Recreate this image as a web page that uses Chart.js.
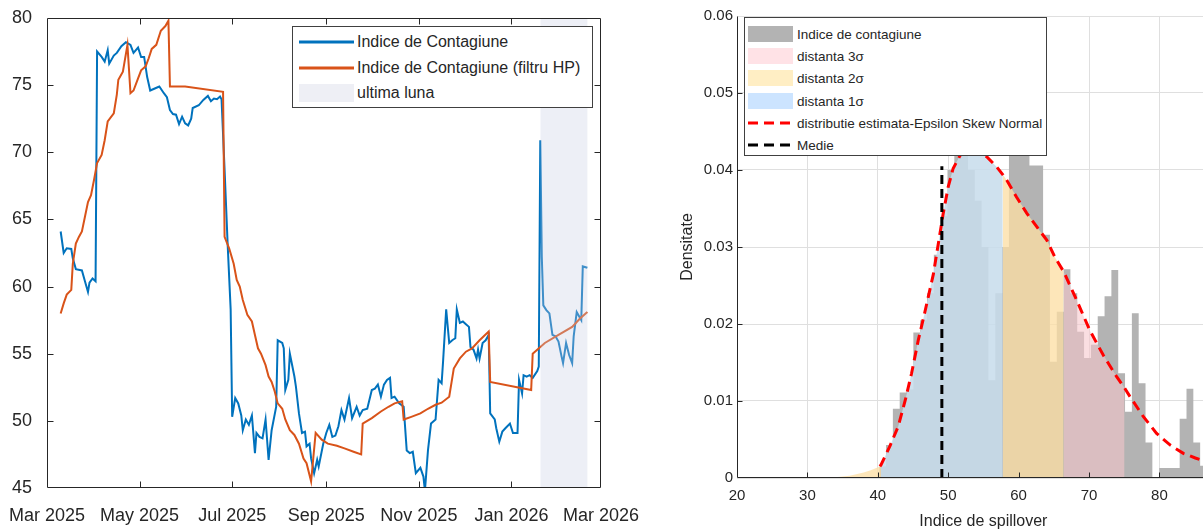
<!DOCTYPE html>
<html>
<head>
<meta charset="utf-8">
<script src="https://cdn.jsdelivr.net/npm/chart.js@4.4.1/dist/chart.umd.min.js"></script>
<style>
  html, body { margin: 0; padding: 0; background: #fff; }
  body { width: 1203px; height: 531px; overflow: hidden; position: relative; font-family: "Liberation Sans", Arial, sans-serif; color: #262626; }
  canvas { position: absolute; top: 0; }
  #left { left: 0; }
  #right { left: 660px; }
  .legend { position: absolute; background: #fff; border: 1px solid #404040; box-sizing: border-box; z-index: 2; }
  .legend .row { position: absolute; left: 0; right: 0; height: 0; }
  .legend .txt { position: absolute; white-space: nowrap; transform: translateY(-50%); }
  .legend svg { position: absolute; overflow: visible; }
</style>
</head>
<body>
<canvas id="left" width="640" height="531"></canvas>
<canvas id="right" width="580" height="531"></canvas>

<div class="legend" id="legLeft" style="left:292px; top:26px; width:301px; height:82px; font-size:16px;"></div>
<div class="legend" id="legRight" style="left:744px; top:17px; width:303px; height:139px; font-size:13.5px;"></div>

<script>
// ---- left chart: index (days since 1 Mar 2025) ----
const xTickDays = [0, 61, 122, 184, 245, 306, 365];
const xTickLabels = ["Mar 2025", "May 2025", "Jul 2025", "Sep 2025", "Nov 2025", "Jan 2026", "Mar 2026"];

const blueDays = [9, 11, 13, 16, 17, 19, 23, 25, 27, 28, 30, 32, 33, 36, 38, 40, 41, 44, 46, 49,
  52, 55, 57, 60, 62, 64, 66, 68, 71, 74, 77, 79, 81, 83, 85, 87, 89, 91, 93, 95,
  96, 100, 103, 106, 108, 110, 112, 114, 115, 117, 119, 121, 122, 124, 126, 128, 129, 131, 133, 135,
  137, 138, 140, 142, 144, 146, 148, 151, 152, 155, 156, 157, 159, 160, 163, 164, 166, 168, 170, 171,
  173, 174, 176, 178, 179, 182, 184, 186, 188, 190, 192, 194, 196, 199, 201, 204, 206, 208, 211, 214,
  216, 218, 220, 222, 224, 226, 227, 229, 232, 235, 237, 239, 241, 243, 246, 248, 249, 251, 253, 256,
  258, 260, 261, 263, 265, 267, 269, 270, 272, 274, 276, 278, 279, 281, 283, 284, 285, 287, 289, 291,
  292, 295, 296, 298, 300, 302, 305, 307, 310, 311, 313, 314, 316, 318, 320, 323, 324, 325, 326, 327,
  329, 331, 333, 335, 337, 339, 340, 342, 344, 346, 347, 349, 350, 352, 353, 356];
const blueVals = [64.1, 62.5, 62.85, 62.8, 62.1, 61.3, 61.2, 60.4, 59.6, 60.3, 60.6, 60.4, 77.5, 77.1, 76.75, 77.6, 76.6, 77.2, 77.4, 77.9,
  78.2, 78.0, 77.4, 77.8, 77.1, 77.1, 75.6, 74.6, 74.75, 74.9, 74.4, 74.1, 73.15, 72.85, 72.8, 72.1, 72.65, 72.15, 72.0, 72.5,
  73.3, 73.5, 73.9, 74.2, 73.8, 74.0, 73.95, 74.15, 73.95, 68.7, 63.2, 58.3, 50.3, 51.7, 51.3, 50.4, 49.3, 50.1, 49.7, 50.4,
  47.6, 49.1, 48.8, 48.7, 50.1, 47.1, 49.3, 51.05, 56.0, 55.8, 55.4, 52.3, 53.05, 55.0, 53.3, 52.55, 50.55, 49.1, 49.2, 48.1,
  48.3, 47.2, 46.1, 47.1, 46.6, 48.3, 49.1, 49.7, 48.8, 48.9, 49.6, 50.8, 50.1, 51.7, 50.2, 51.05, 50.4, 50.8, 50.9, 52.3,
  52.4, 52.7, 51.8, 52.7, 53.05, 53.2, 51.7, 51.8, 51.3, 51.05, 47.8, 47.6, 47.7, 46.1, 46.5, 45.85, 44.8, 47.8, 49.8, 50.1,
  53.05, 52.8, 54.5, 58.3, 55.8, 56.0, 56.15, 58.3, 57.3, 57.4, 57.2, 57.0, 55.5, 55.3, 54.65, 55.3, 54.65, 55.8, 56.0, 56.4,
  50.55, 50.1, 49.45, 48.45, 49.2, 49.45, 49.8, 49.1, 49.1, 53.05, 52.05, 53.4, 53.3, 53.4, 53.2, 53.7, 54.05, 70.9, 62.2, 58.6,
  58.25, 58.0, 56.4, 56.3, 55.9, 54.8, 54.3, 55.8, 54.9, 54.3, 56.3, 58.1, 57.9, 57.5, 61.5, 61.4];

const hpDays = [9, 11, 13, 16, 17, 19, 21, 23, 25, 27, 29, 31, 33, 36, 38, 40, 44, 46, 47, 50,
  53, 55, 57, 60, 62, 65, 67, 69, 72, 75, 78, 80, 81, 91, 116, 117, 120, 123, 125, 127,
  129, 132, 135, 137, 139, 141, 144, 146, 148, 150, 152, 155, 157, 160, 163, 166, 169, 171, 174, 177,
  181, 185, 191, 196, 202, 207, 208, 214, 220, 225, 229, 234, 235, 240, 246, 251, 256, 260, 265, 268,
  272, 276, 280, 285, 291, 292, 319, 320, 328, 337, 346, 351, 356];
const hpVals = [58.0, 58.75, 59.4, 59.75, 61.7, 63.2, 63.7, 64.1, 65.2, 66.3, 66.8, 67.95, 69.2, 69.8, 70.9, 72.3, 72.9, 74.3, 75.4, 76.0,
  78.0, 74.4, 74.6, 75.5, 76.1, 76.4, 77.0, 77.7, 78.0, 79.05, 79.4, 79.8, 74.9, 74.9, 74.5, 63.7, 62.85, 61.7, 60.5, 60.0,
  59.0, 57.9, 57.4, 56.4, 55.4, 55.0, 54.15, 53.3, 52.9, 52.2, 51.3, 50.9, 50.1, 49.3, 48.95, 48.3, 47.2, 46.85, 45.5, 49.1,
  48.6, 48.3, 48.15, 47.95, 47.7, 47.5, 49.8, 50.2, 50.7, 51.05, 51.3, 51.45, 50.1, 50.3, 50.55, 50.9, 51.2, 51.35, 51.8, 53.9,
  54.65, 55.15, 55.4, 56.0, 56.65, 52.9, 52.3, 55.0, 55.8, 56.4, 57.0, 57.6, 58.1];

const lastMonth = [325, 356.2]; // shaded "ultima luna" span

// ---- right chart: histogram + fitted density ----
const binStart = 40.2, binWidth = 0.97;
const binDensity = [0.0015, 0.0043, 0.009, 0.0111, 0.0115, 0.0189, 0.0205, 0.024, 0.029, 0.034,
  0.040, 0.0435, 0.043, 0.040, 0.036, 0.030, 0.0127, 0.024, 0.030, 0.0445,
  0.0445, 0.0445, 0.0406, 0.0406, 0.0316, 0.0151, 0.0216, 0.0271, 0.024, 0.019,
  0.0156, 0.0173, 0.021, 0.0236, 0.027, 0.0136, 0.0086, 0.0214, 0.0123, 0.0046,
  0, 0.0013, 0.0013, 0.0013, 0.0077, 0.0116, 0.0046, 0.0016, 0];

const curveX = [31.8, 34, 36, 38, 39, 40.3, 40.45, 41.7, 42.9, 43.9, 44.8, 45.75, 46.7, 47.9, 49.3, 50.0, 50.7, 51.7, 52.5, 53.4,
  54.4, 55.5, 56.9, 57.75, 58.3, 59.7, 61.15, 62.6, 64.0, 65.2, 66.4, 68.25, 70.1, 72.0, 73.9, 75.05, 75.8, 77.7, 79.6, 81.5,
  83.4, 85.1, 87, 89, 90];
const curveY = [0.00003, 0.0001, 0.0003, 0.0007, 0.001, 0.0015, 0.0017, 0.0041, 0.0067, 0.0101, 0.0136, 0.0179, 0.0216, 0.0265, 0.0344, 0.0378, 0.0402, 0.0419, 0.0425, 0.0427,
  0.0424, 0.0417, 0.0404, 0.0394, 0.0387, 0.0365, 0.0344, 0.0326, 0.0309, 0.0286, 0.0268, 0.0231, 0.0192, 0.016, 0.0132, 0.0117, 0.0106, 0.008, 0.0058, 0.0043,
  0.0032, 0.0026, 0.002, 0.0015, 0.0013];
const curveFrom = 40.3;        // red dashed curve drawn from here
const meanValue = 49.1;
const meanTop = 0.0405;
const band1 = [40.45, 57.75];
const band2 = [31.8, 66.4];
const band3 = [23.15, 75.05];

const textColor = "#262626";
const fontFamily = "'Liberation Sans', Arial, sans-serif";

// inward tick marks + axes box, matlab style
const axesBox = {
  id: "axesBox",
  afterDraw(chart, args, opts) {
    const { ctx, chartArea: a, scales } = chart;
    const L = Math.round(a.left) + 0.5, R = Math.round(a.right) - 0.5;
    const T = Math.round(a.top) + 0.5, B = Math.round(a.bottom) - 0.5;
    ctx.save();
    ctx.strokeStyle = opts.color;
    ctx.lineWidth = 1;
    ctx.beginPath();
    if (opts.box) {
      ctx.rect(L, T, R - L, B - T);
    } else {
      ctx.moveTo(L, T); ctx.lineTo(L, B); ctx.lineTo(R, B);
    }
    const len = opts.tick;
    scales.x.ticks.forEach(t => {
      const px = Math.round(scales.x.getPixelForValue(t.value)) + 0.5;
      if (px <= L + 1 || px >= R - 1) return;
      ctx.moveTo(px, B); ctx.lineTo(px, B - len);
      if (opts.box) { ctx.moveTo(px, T); ctx.lineTo(px, T + len); }
    });
    scales.y.ticks.forEach(t => {
      const py = Math.round(scales.y.getPixelForValue(t.value)) + 0.5;
      if (py <= T + 1 || py >= B - 1) return;
      ctx.moveTo(L, py); ctx.lineTo(L + len, py);
      if (opts.box) { ctx.moveTo(R, py); ctx.lineTo(R - len, py); }
    });
    ctx.stroke();
    ctx.restore();
  }
};

const pts = (xs, ys) => xs.map((x, i) => ({ x: x, y: ys[i] }));

// keep the plot area exactly where the layout padding puts it
const fixX = h => s => { s.height = h; s.paddingLeft = 0; s.paddingRight = 0; };
const fixY = w => s => { s.width = w; s.paddingTop = 0; s.paddingBottom = 0; };

// left chart
new Chart(document.getElementById("left"), {
  type: "line",
  data: {
    datasets: [
      {
        label: "ultima luna",
        data: lastMonth.map(d => ({ x: d, y: 80 })),
        fill: "start",
        backgroundColor: "rgba(200,205,228,0.32)",
        borderWidth: 0,
        pointRadius: 0
      },
      {
        label: "Indice de Contagiune (filtru HP)",
        data: pts(hpDays, hpVals),
        borderColor: "#D95319",
        borderWidth: 2,
        pointRadius: 0,
        fill: false
      },
      {
        label: "Indice de Contagiune",
        data: pts(blueDays, blueVals),
        borderColor: "#0072BD",
        borderWidth: 2,
        pointRadius: 0,
        fill: false
      }
    ]
  },
  options: {
    responsive: false,
    animation: false,
    layout: { padding: { top: 18, right: 39, left: 0, bottom: 0 } },
    plugins: {
      legend: { display: false },
      tooltip: { enabled: false },
      axesBox: { color: "#262626", box: true, tick: 6 }
    },
    scales: {
      x: {
        type: "linear",
        min: 0,
        max: 365,
        afterBuildTicks: s => { s.ticks = xTickDays.map(v => ({ value: v })); },
        afterFit: fixX(43),
        ticks: {
          autoSkip: false,
          maxRotation: 0,
          padding: 9,
          color: textColor,
          font: { family: fontFamily, size: 18 },
          callback: (v, i) => xTickLabels[i]
        },
        grid: { display: false },
        border: { display: false }
      },
      y: {
        min: 45,
        max: 80,
        afterFit: fixY(47),
        ticks: { stepSize: 5, padding: 7, color: textColor, font: { family: fontFamily, size: 18 } },
        grid: { display: false },
        border: { display: false }
      }
    }
  },
  plugins: [axesBox]
});

// right chart
const histPts = [];
binDensity.forEach((d, k) => {
  const x0 = binStart + k * binWidth;
  histPts.push({ x: x0, y: d }, { x: x0 + binWidth, y: d });
});
const curvePts = pts(curveX, curveY);
const inRange = (lo, hi) => curvePts.filter(p => p.x >= lo && p.x <= hi);

const fillSet = (data, color) => ({
  data: data, fill: "origin", backgroundColor: color, borderWidth: 0, pointRadius: 0
});

new Chart(document.getElementById("right"), {
  type: "line",
  data: {
    datasets: [
      {
        label: "Medie",
        data: [{ x: meanValue, y: 0 }, { x: meanValue, y: meanTop }],
        borderColor: "#000",
        borderWidth: 3,
        borderDash: [9, 5],
        pointRadius: 0,
        fill: false
      },
      {
        label: "distributie estimata-Epsilon Skew Normal",
        data: curvePts.filter(p => p.x >= curveFrom),
        borderColor: "#FF0000",
        borderWidth: 3,
        borderDash: [10, 6],
        pointRadius: 0,
        fill: false
      },
      fillSet(inRange(band1[0], band1[1]), "rgba(200,221,236,0.87)"),
      fillSet(inRange(band2[0], band1[0]), "rgba(252,222,164,0.77)"),
      fillSet(inRange(band1[1], band2[1]), "rgba(252,222,164,0.77)"),
      fillSet(inRange(band3[0], band2[0]), "rgba(247,198,203,0.58)"),
      fillSet(inRange(band2[1], band3[1]), "rgba(247,198,203,0.58)"),
      {
        label: "Indice de contagiune",
        data: histPts,
        fill: "origin",
        backgroundColor: "#b3b3b3",
        borderWidth: 0,
        pointRadius: 0
      }
    ]
  },
  options: {
    responsive: false,
    animation: false,
    layout: { padding: { top: 16, right: 10.2, left: 0, bottom: 0 } },
    plugins: {
      legend: { display: false },
      tooltip: { enabled: false },
      axesBox: { color: "#262626", box: false, tick: 5 }
    },
    scales: {
      x: {
        type: "linear",
        min: 20,
        max: 90,
        afterFit: fixX(53),
        ticks: { stepSize: 10, padding: 9, maxRotation: 0, color: textColor, font: { family: fontFamily, size: 15 } },
        grid: { color: "#dfdfdf", drawTicks: false },
        border: { display: false },
        title: { display: true, text: "Indice de spillover", color: textColor, padding: { top: 0, bottom: 0 }, font: { family: fontFamily, size: 16 } }
      },
      y: {
        min: 0,
        max: 0.06,
        afterFit: fixY(77),
        ticks: { stepSize: 0.01, padding: 4, color: textColor, font: { family: fontFamily, size: 15 } },
        grid: { color: "#dfdfdf", drawTicks: false },
        border: { display: false },
        title: { display: true, text: "Densitate", color: textColor, padding: { top: 18, bottom: 0 }, font: { family: fontFamily, size: 16 } }
      }
    }
  },
  plugins: [axesBox]
});

// legends
function addRow(leg, cy, swatchSvg, text, textLeft) {
  const row = document.createElement("div");
  row.className = "row";
  row.style.top = cy + "px";
  row.innerHTML = swatchSvg + `<span class="txt" style="left:${textLeft}px">${text}</span>`;
  leg.appendChild(row);
}
const lineSw = (x0, x1, color, w, dash) =>
  `<svg style="left:0;top:0" width="1" height="1"><line x1="${x0}" y1="0" x2="${x1}" y2="0" stroke="${color}" stroke-width="${w}" ${dash ? `stroke-dasharray="${dash}"` : ""}/></svg>`;
const rectSw = (x0, x1, h, color) =>
  `<svg style="left:0;top:0" width="1" height="1"><rect x="${x0}" y="${-h / 2}" width="${x1 - x0}" height="${h}" fill="${color}"/></svg>`;

const legL = document.getElementById("legLeft");
addRow(legL, 14.5, lineSw(6, 61, "#0072BD", 3), "Indice de Contagiune", 64);
addRow(legL, 40.5, lineSw(6, 61, "#D95319", 3), "Indice de Contagiune (filtru HP)", 64);
addRow(legL, 65.5, rectSw(6, 61, 18, "#eeeff5"), "ultima luna", 64);

const legR = document.getElementById("legRight");
addRow(legR, 15.5, rectSw(3, 48, 16, "#b3b3b3"), "Indice de contagiune", 52);
addRow(legR, 38, rectSw(3, 48, 16, "#ffe2e6"), "distanta 3σ", 52);
addRow(legR, 60, rectSw(3, 48, 16, "#ffeec4"), "distanta 2σ", 52);
addRow(legR, 82.5, rectSw(3, 48, 16, "#cce4ff"), "distanta 1σ", 52);
addRow(legR, 104.5, lineSw(3, 48, "#FF0000", 3, "10 6"), "distributie estimata-Epsilon Skew Normal", 52);
addRow(legR, 126.5, lineSw(3, 48, "#000000", 3, "10 6"), "Medie", 52);
</script>
</body>
</html>
